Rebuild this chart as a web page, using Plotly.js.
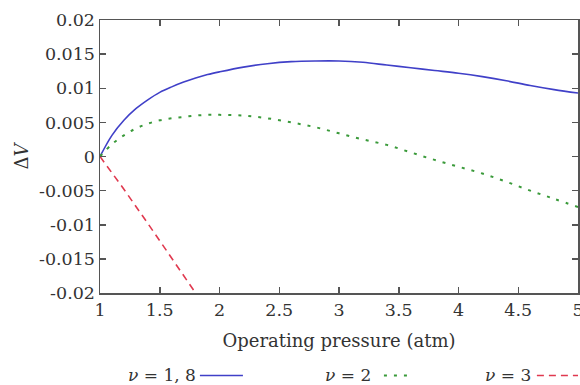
<!DOCTYPE html>
<html>
<head>
<meta charset="utf-8">
<script src="https://cdn.plot.ly/plotly-3.0.1.min.js"></script>
<style>
  html, body { margin: 0; padding: 0; background: #fff; }
  #chart { width: 580px; height: 385px; }
</style>
</head>
<body>
<div id="chart"></div>
<script>
// Operating pressure (atm)
const pressure = [1.0, 1.1, 1.2, 1.3, 1.4, 1.5, 1.6, 1.7, 1.8, 1.9, 2.0, 2.2, 2.4, 2.6, 2.8, 3.0,
                  3.2, 3.4, 3.6, 3.8, 4.0, 4.2, 4.4, 4.6, 4.8, 5.0];
// ΔV for ν = 1, 8
const dvNu18 = [0, 0.0031, 0.0053, 0.0070, 0.0083, 0.0094, 0.0102, 0.0109, 0.0115, 0.0120,
                0.0124, 0.0131, 0.0136, 0.0139, 0.0140, 0.0140, 0.0138, 0.0134, 0.0130,
                0.0126, 0.0122, 0.0117, 0.0111, 0.0104, 0.0098, 0.0093];
// ΔV for ν = 2
const dvNu2 = [0, 0.0018, 0.0031, 0.0041, 0.0048, 0.0053, 0.0056, 0.0058, 0.0060, 0.0061,
               0.0061, 0.0060, 0.0056, 0.0050, 0.0043, 0.0034, 0.0025, 0.0017, 0.0006,
               -0.0005, -0.0015, -0.0025, -0.0037, -0.0050, -0.0062, -0.0074];
// ΔV for ν = 3 (leaves the visible range just below 1.8 atm)
const pressureNu3 = [1.0, 1.2, 1.4, 1.6, 1.8, 2.0];
const dvNu3 = [0, -0.0048, -0.0098, -0.0149, -0.0200, -0.0251];

const xTicks = [1, 1.5, 2, 2.5, 3, 3.5, 4, 4.5, 5];
const yTicks = [0.02, 0.015, 0.01, 0.005, 0, -0.005, -0.01, -0.015, -0.02];
const yTickText = ['0.02', '0.015', '0.01', '0.005', '0', '-0.005', '-0.01', '-0.015', '-0.02'];

const serif = 'DejaVu Serif, Liberation Serif, serif';
const TEXT = '#333';
const BLUE = '#4040c8', GREEN = '#3a9a3a', RED = '#e0394f';
const DOT = '3px,7px', DASH = '7px,5px';

const traces = [
  { x: pressure, y: dvNu18, mode: 'lines', name: 'ν = 1, 8',
    line: { color: BLUE, width: 1.6, shape: 'spline' } },
  { x: pressure, y: dvNu2, mode: 'lines', name: 'ν = 2',
    line: { color: GREEN, width: 2, dash: DOT, shape: 'spline' } },
  { x: pressureNu3, y: dvNu3, mode: 'lines', name: 'ν = 3',
    line: { color: RED, width: 1.6, dash: DASH } }
];

const axisCommon = {
  showgrid: false, zeroline: false, showline: true, linecolor: '#555', linewidth: 1.5,
  mirror: 'ticks', ticks: 'inside', ticklen: 6, tickwidth: 1.5, tickcolor: '#555',
  ticklabeloverflow: 'allow',
  tickfont: { family: serif, size: 17.5, color: TEXT }
};

// legend: label text followed by a short line sample
const legendItems = [
  { label: '<i>ν</i> = 1, 8', textEnd: 0.203, x0: 0.209, x1: 0.299, color: BLUE, width: 1.6, dash: 'solid' },
  { label: '<i>ν</i> = 2', textEnd: 0.570, x0: 0.594, x1: 0.655, color: GREEN, width: 2, dash: DOT },
  { label: '<i>ν</i> = 3', textEnd: 0.904, x0: 0.914, x1: 1.0, color: RED, width: 1.6, dash: DASH }
];
const legendY = -0.302;

const layout = {
  width: 580, height: 385,
  margin: { l: 100, r: 2, t: 20, b: 92 },
  paper_bgcolor: '#fff', plot_bgcolor: '#fff',
  showlegend: false,
  font: { family: serif, color: TEXT },
  xaxis: Object.assign({}, axisCommon, {
    range: [1, 5], tickvals: xTicks, ticktext: xTicks.map(String),
    title: { text: 'Operating pressure (atm)', font: { family: serif, size: 18, color: TEXT }, standoff: 16 }
  }),
  yaxis: Object.assign({}, axisCommon, {
    range: [-0.02, 0.02], tickvals: yTicks, ticktext: yTickText,
    title: { text: 'Δ<i>V</i>', font: { family: serif, size: 18, color: TEXT }, standoff: 5 }
  }),
  annotations: legendItems.map(it => ({
    xref: 'paper', yref: 'paper', x: it.textEnd, y: legendY, xanchor: 'right', yanchor: 'middle',
    text: it.label, showarrow: false, borderpad: 0, font: { family: serif, size: 17, color: TEXT }
  })),
  shapes: legendItems.map(it => ({
    type: 'line', xref: 'paper', yref: 'paper', x0: it.x0, x1: it.x1, y0: legendY, y1: legendY,
    line: { color: it.color, width: it.width, dash: it.dash }
  }))
};

Plotly.newPlot('chart', traces, layout, { displayModeBar: false, staticPlot: true });
</script>
</body>
</html>
